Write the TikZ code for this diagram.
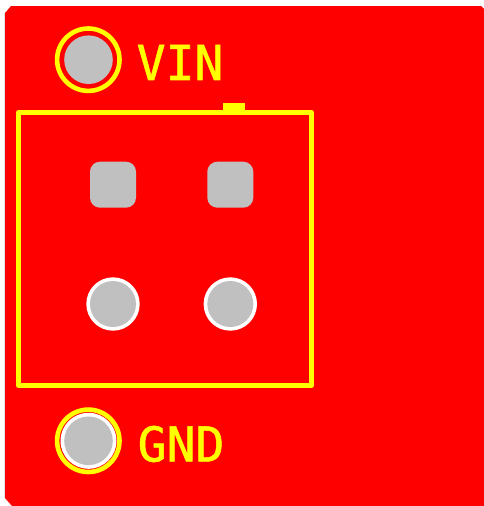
\documentclass[tikz,border=0pt]{standalone}
\usepackage{fontspec}
\newfontfamily\silk[FakeBold=1.1]{DejaVu Sans Mono}
\definecolor{boardred}{RGB}{255,0,0}
\definecolor{silkyellow}{RGB}{255,255,0}
\definecolor{drillgray}{RGB}{192,192,192}
\definecolor{edgegray}{RGB}{225,225,225}
\tikzset{
  silkline/.style={draw=silkyellow,line width=4.6pt,line join=round},
  drill/.style={circle,fill=drillgray,inner sep=0pt,minimum size=#1},
  whitering/.style={circle,fill=white,inner sep=0pt,minimum size=#1},
  silkring/.style={circle,draw=silkyellow,fill=boardred,line width=4.6pt,inner sep=0pt,minimum size=62.4pt},
  squarepad/.style={rectangle,rounded corners=10pt,fill=drillgray,inner sep=0pt,minimum size=46pt},
  silktext/.style={text=silkyellow,inner sep=0pt,anchor=west,font=\silk\fontsize{48}{48}\selectfont}
}
\begin{document}
\begin{tikzpicture}[x=1pt,y=-1pt]
\useasboundingbox (0,0) rectangle (484,506);
\fill[white] (0,0) rectangle (484,506);
\draw[edgegray,line width=1pt] (4.5,13) -- (4.5,498);
\fill[boardred] (5,13) -- (11,6) -- (481,6) -- (484,9) -- (484,506) -- (12,506) -- (5,498) -- cycle;
% VIN hole
\node[silkring] (vinring) at (88.3,59.7) {};
\node[drill=48.6pt] (vinhole) at (88.5,59.7) {};
% GND hole
\node[silkring] (gndring) at (88.3,440.8) {};
\node[whitering=56pt] (gndwhite) at (88.5,440.8) {};
\node[drill=48.6pt] (gndhole) at (88.5,440.8) {};
% Connector outline
\draw[silkline] (18.4,112.4) rectangle (311.7,385.6);
\fill[silkyellow] (223,103) rectangle (245,112);
% Pads
\node[squarepad] (p1) at (113,184.7) {};
\node[squarepad] (p2) at (230.3,184.7) {};
\node[whitering=53.4pt] (r3) at (113,304) {};
\node[drill=46pt] (h3) at (113,304) {};
\node[whitering=53.4pt] (r4) at (230.3,304) {};
\node[drill=46pt] (h4) at (230.3,304) {};
% Labels
\node[silktext] (vin) at (136.5,62.5) {VIN};
\node[silktext] (gnd) at (137.5,444) {GND};
\end{tikzpicture}
\end{document}
